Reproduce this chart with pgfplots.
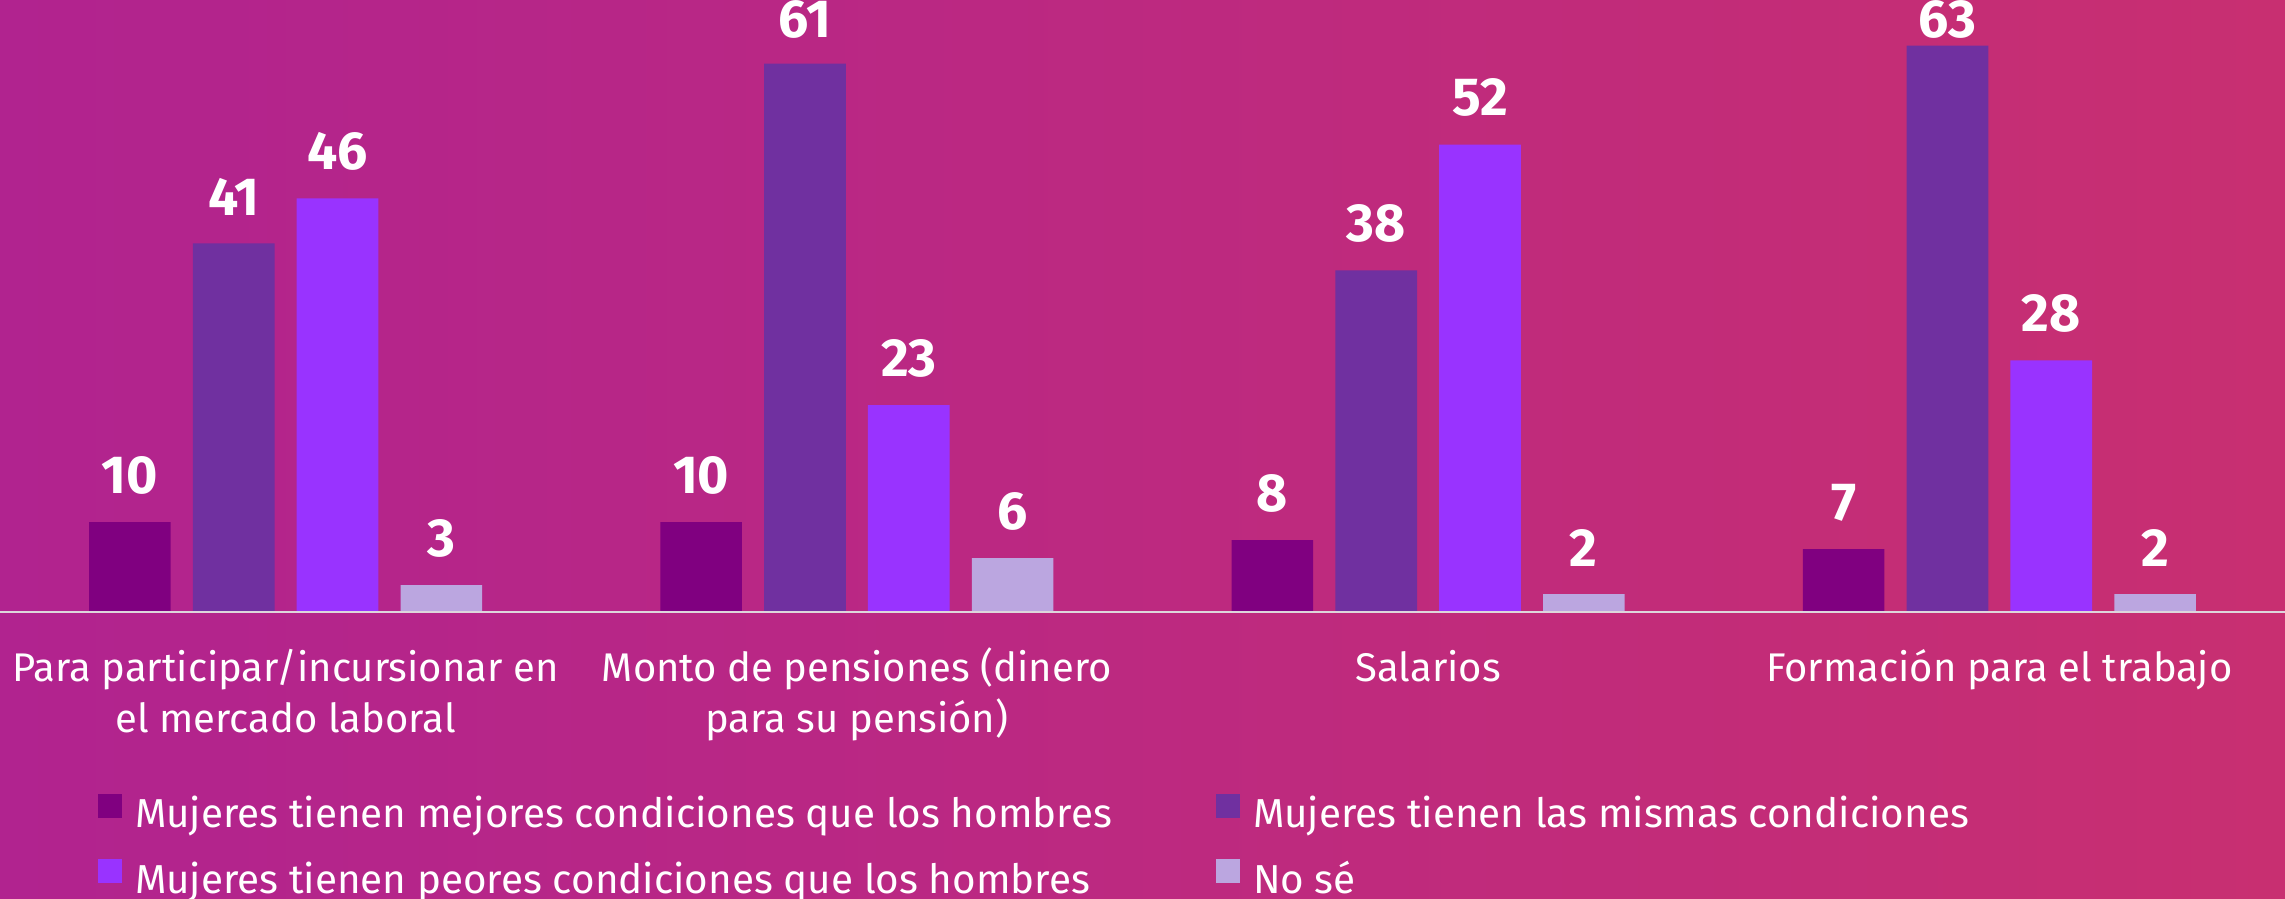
\documentclass[border=0pt]{standalone}
\usepackage{fontspec}
\setmainfont{Fira Sans}
\usepackage{pgfplots}
\pgfplotsset{compat=1.18}
\definecolor{bgL}{HTML}{B1238F}
\definecolor{bgR}{HTML}{C82F71}
\definecolor{cA}{HTML}{800080}
\definecolor{cB}{HTML}{7030A0}
\definecolor{cC}{HTML}{9933FF}
\definecolor{cD}{HTML}{BBA6E0}
\definecolor{lineC}{HTML}{DDD6DC}
\begin{document}
\begin{tikzpicture}
\shade[use as bounding box, left color=bgL, right color=bgR] (0pt,-71.75pt) rectangle (571.25pt,153pt);
\begin{axis}[
  at={(0pt,0pt)}, anchor=south west,
  scale only axis, width=571.25pt, height=153pt,
  xmin=-0.5, xmax=3.5, ymin=0, ymax=68.08,
  axis line style={draw=none}, major tick style={draw=none},
  ytick=\empty, xtick={0,1,2,3},
  xticklabels={
    {\rule{0pt}{10pt}Para participar/incursionar en\\el mercado laboral},
    {\rule{0pt}{10pt}Monto de pensiones (dinero\\para su pensión)},
    {\rule{0pt}{10pt}Salarios},
    {\rule{0pt}{10pt}Formación para el trabajo}},
  xticklabel style={anchor=north, inner sep=0pt, yshift=-2.8pt, align=center, text=white,
    font=\fontsize{10}{12.75}\selectfont},
  ybar=5.55pt, bar width=20.4pt,
  clip=false,
  nodes near coords={\pgfmathprintnumber[assume math mode=true]{\pgfplotspointmeta}},
  visualization depends on={rawy \as \myy},
  every node near coord/.append style={anchor=south, inner sep=0pt, text=white,
    font=\fontsize{13.4}{14}\selectfont\bfseries,
    yshift={min(6.75,143.1-2.2472*\myy)}},
  legend columns=2,
  legend image code/.code={\fill[#1] (0pt,0pt) rectangle (6pt,6pt);},
  legend style={at={(0.0429,-0.297)}, anchor=north west, draw=none, fill=none,
    inner sep=0pt, outer sep=0pt, text=white, font=\fontsize{10.1}{12}\selectfont,
    row sep=5.4pt,
    nodes={inner sep=0pt, text height=7.5pt, text depth=2.5pt},
    /tikz/every odd column/.append style={column sep=3.25pt},
    cells={anchor=west}},
]
\addplot[fill=cA, draw=none] coordinates {(0,10) (1,10) (2,8) (3,7)};
\addlegendentry{\makebox[270.25pt][l]{Mujeres tienen mejores condiciones que los hombres}}
\addplot[fill=cB, draw=none] coordinates {(0,41) (1,61) (2,38) (3,63)};
\addlegendentry{Mujeres tienen las mismas condiciones}
\addplot[fill=cC, draw=none] coordinates {(0,46) (1,23) (2,52) (3,28)};
\addlegendentry{\makebox[270.25pt][l]{Mujeres tienen peores condiciones que los hombres}}
\addplot[fill=cD, draw=none] coordinates {(0,3) (1,6) (2,2) (3,2)};
\addlegendentry{No sé}
\draw[lineC, line width=0.5pt] (axis cs:-0.5,0) -- (axis cs:3.5,0);
\end{axis}
\end{tikzpicture}
\end{document}
